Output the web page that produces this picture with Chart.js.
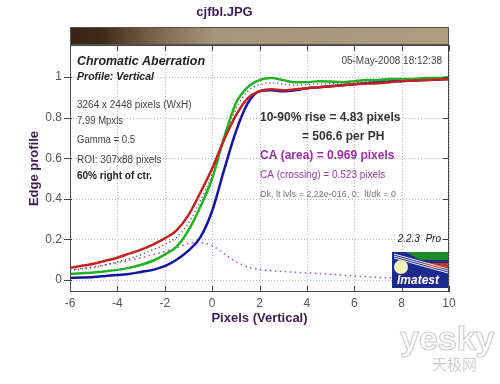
<!DOCTYPE html>
<html>
<head>
<meta charset="utf-8">
<script src="https://cdn.jsdelivr.net/npm/chart.js@4/dist/chart.umd.min.js"></script>
<style>
  body { margin: 0; background: #fff; }
  #wrap { width: 500px; height: 384px; }
</style>
</head>
<body>
<div id="wrap"><canvas id="ca-chart" width="500" height="384"></canvas></div>
<script>
// Edge positions (pixels, vertical profile)
let xPixels = [-6, -5.5, -5, -4.5, -4, -3.5, -3, -2.5, -2, -1.5, -1, -0.5, 0, 0.5, 1, 1.5, 2,
    2.5, 3, 3.5, 4, 4.5, 5, 5.5, 6, 6.5, 7, 7.5, 8, 8.5, 9, 9.5, 10];

// Channel edge profiles
let redProfile = [0.06, 0.07, 0.08, 0.095, 0.11, 0.13, 0.15, 0.175, 0.205, 0.245, 0.32, 0.43, 0.55, 0.69, 0.81, 0.895, 0.93,
    0.94, 0.935, 0.94, 0.945, 0.95, 0.955, 0.96, 0.965, 0.968, 0.97, 0.975, 0.98, 0.982, 0.985, 0.988, 0.99];
let greenProfile = [0.03, 0.033, 0.037, 0.043, 0.05, 0.06, 0.075, 0.095, 0.125, 0.165, 0.245, 0.36, 0.5, 0.7, 0.87, 0.95, 0.985,
    0.995, 0.985, 0.975, 0.975, 0.98, 0.978, 0.975, 0.98, 0.985, 0.985, 0.99, 0.99, 0.99, 0.995, 0.995, 1.0];
let blueProfile = [0.01, 0.012, 0.015, 0.02, 0.025, 0.03, 0.04, 0.05, 0.068, 0.1, 0.145, 0.21, 0.34, 0.54, 0.73, 0.87, 0.93,
    0.935, 0.93, 0.935, 0.945, 0.95, 0.955, 0.96, 0.965, 0.97, 0.975, 0.978, 0.98, 0.983, 0.985, 0.988, 0.99];
// Dotted curves: luminance-like profile and channel spread
let lumaProfile = [0.048, 0.055, 0.063, 0.075, 0.09, 0.105, 0.125, 0.15, 0.175, 0.21, 0.28, 0.39, 0.52, 0.69, 0.84, 0.93, 0.962,
    0.972, 0.965, 0.96, 0.962, 0.965, 0.968, 0.97, 0.973, 0.977, 0.98, 0.982, 0.985, 0.987, 0.99, 0.99, 0.993];
let spreadProfile = [0.05, 0.057, 0.065, 0.075, 0.085, 0.097, 0.11, 0.125, 0.14, 0.16, 0.18, 0.185, 0.17, 0.13, 0.09, 0.065, 0.052,
    0.046, 0.042, 0.038, 0.035, 0.032, 0.028, 0.025, 0.02, 0.016, 0.013, 0.011, 0.01, 0.01, 0.01, 0.01, 0.01];

let xTicks = [-6, -4, -2, 0, 2, 4, 6, 8, 10];
let yTicks = [0, 0.2, 0.4, 0.6, 0.8, 1];
let yTickLabels = ['0', '0.2', '0.4', '0.6', '0.8', '1'];

let titleColor = '#3d1c4f';

function toPoints(values) {
    return xPixels.map((x, i) => ({ x: x, y: values[i] }));
}

// Draws text squeezed to the width it has in the reference
function label(ctx, text, x, y, font, color, width, align) {
    ctx.font = font;
    ctx.fillStyle = color;
    ctx.textAlign = align || 'left';
    ctx.textBaseline = 'middle';
    if (width) ctx.fillText(text, x, y, width);
    else ctx.fillText(text, x, y);
}

// Frame, inward ticks, colour bar, notes and the Imatest badge
let decorations = {
    id: 'decorations',
    beforeDatasetsDraw(chart) {
        // dotted grid
        let ctx = chart.ctx;
        let area = chart.chartArea;
        let xs = chart.scales.x;
        let ys = chart.scales.y;
        ctx.save();
        ctx.strokeStyle = '#b8b8b8';
        ctx.lineWidth = 1;
        ctx.setLineDash([1, 2]);
        ctx.beginPath();
        xTicks.forEach(v => {
            let px = Math.round(xs.getPixelForValue(v)) + 0.5;
            ctx.moveTo(px, area.top);
            ctx.lineTo(px, area.bottom);
        });
        yTicks.forEach(v => {
            let py = Math.round(ys.getPixelForValue(v)) + 0.5;
            ctx.moveTo(area.left, py);
            ctx.lineTo(area.right, py);
        });
        ctx.stroke();
        ctx.restore();
    },
    afterDraw(chart) {
        let ctx = chart.ctx;
        let area = chart.chartArea;
        let xs = chart.scales.x;
        let ys = chart.scales.y;
        ctx.save();

        // colour strip over the plot
        let grad = ctx.createLinearGradient(area.left, 0, area.right, 0);
        grad.addColorStop(0, '#3a2313');
        grad.addColorStop(0.08, '#3f2816');
        grad.addColorStop(0.22, '#7a624a');
        grad.addColorStop(0.38, '#a8947a');
        grad.addColorStop(1, '#ae9b80');
        ctx.fillStyle = grad;
        ctx.fillRect(area.left, area.top - 18, area.right - area.left, 18);
        ctx.strokeStyle = '#555';
        ctx.lineWidth = 1;
        ctx.strokeRect(area.left + 0.5, area.top - 17.5, area.right - area.left - 1, 17);

        // plot box
        ctx.strokeStyle = '#444';
        ctx.strokeRect(area.left + 0.5, area.top + 0.5, area.right - area.left - 1, area.bottom - area.top - 1);

        // tick marks
        ctx.beginPath();
        xTicks.forEach(v => {
            let px = Math.round(xs.getPixelForValue(v)) + 0.5;
            ctx.moveTo(px, area.bottom);
            ctx.lineTo(px, area.bottom - 6);
            ctx.moveTo(px, area.top);
            ctx.lineTo(px, area.top + 6);
        });
        yTicks.forEach(v => {
            let py = Math.round(ys.getPixelForValue(v)) + 0.5;
            ctx.moveTo(area.left - 6, py);
            ctx.lineTo(area.left + 2, py);
            ctx.moveTo(area.right, py);
            ctx.lineTo(area.right - 6, py);
        });
        ctx.stroke();

        // notes, left block
        let lx = area.left + 7;
        label(ctx, 'Chromatic Aberration', lx, 61, 'italic bold 13px "Liberation Sans", Arial', '#222', 128);
        label(ctx, 'Profile: Vertical', lx, 77, 'italic bold 11px "Liberation Sans", Arial', '#222', 77);
        label(ctx, '3264 x 2448 pixels (WxH)', lx, 105, '10px "Liberation Sans", Arial', '#444', 119);
        label(ctx, '7.99 Mpxls', lx, 121, '10px "Liberation Sans", Arial', '#444', 46);
        label(ctx, 'Gamma = 0.5', lx, 140, '10px "Liberation Sans", Arial', '#444', 58);
        label(ctx, 'ROI: 307x88 pixels', lx, 160, '10px "Liberation Sans", Arial', '#444', 88);
        label(ctx, '60% right of ctr.', lx, 176, 'bold 10px "Liberation Sans", Arial', '#222', 82);

        // notes, right block
        label(ctx, '05-May-2008 18:12:38', area.right - 7, 61, '10px "Liberation Sans", Arial', '#444', 105, 'right');
        label(ctx, '10-90% rise = 4.83 pixels', 260, 118, 'bold 12px "Liberation Sans", Arial', '#333', 146);
        label(ctx, '= 506.6 per PH', 302, 137, 'bold 12px "Liberation Sans", Arial', '#333', 86);
        label(ctx, 'CA (area) = 0.969 pixels', 260, 156, 'bold 12px "Liberation Sans", Arial', '#a02ca8', 143);
        label(ctx, 'CA (crossing) = 0.523 pixels', 260, 175, '10px "Liberation Sans", Arial', '#9a3aa0', 132);
        label(ctx, 'Dk, lt lvls = 2.22e-016, 0;  lt/dk = 0', 260, 195, '9px "Liberation Sans", Arial', '#777', 172);
        label(ctx, '2.2.3  Pro', area.right - 8, ys.getPixelForValue(0.2), 'italic 10px "Liberation Sans", Arial', '#222', 44, 'right');

        // Imatest badge
        let bx = area.right - 57, by = area.bottom - 40, bw = 56, bh = 36;
        ctx.fillStyle = '#1c2a8e';
        ctx.fillRect(bx, by, bw, bh);
        ctx.fillStyle = '#1a8a2a';
        ctx.beginPath();
        ctx.moveTo(bx + 14, by);
        ctx.lineTo(bx + bw, by);
        ctx.lineTo(bx + bw, by + 8);
        ctx.lineTo(bx + 28, by + 8);
        ctx.closePath();
        ctx.fill();
        ctx.fillStyle = '#c0361e';
        ctx.beginPath();
        ctx.moveTo(bx + 30, by + 11);
        ctx.lineTo(bx + bw, by + 11);
        ctx.lineTo(bx + bw, by + 16);
        ctx.lineTo(bx + 40, by + 16);
        ctx.closePath();
        ctx.fill();
        ctx.strokeStyle = '#f4f0f8';
        ctx.lineWidth = 1;
        for (let k = 0; k < 3; k++) {
            ctx.beginPath();
            ctx.moveTo(bx + 2, by + 2 + k * 2);
            ctx.lineTo(bx + bw, by + 17 + k * 2);
            ctx.stroke();
        }
        ctx.fillStyle = '#f5f1bd';
        ctx.beginPath();
        ctx.arc(bx + 9, by + 15, 7, 0, Math.PI * 2);
        ctx.fill();
        label(ctx, 'Imatest', bx + 5, by + 29, 'italic bold 12px "Liberation Sans", Arial', '#fff', 46);

        // faint site watermark
        ctx.font = 'bold 34px "Liberation Sans", Arial';
        ctx.textAlign = 'left';
        ctx.textBaseline = 'alphabetic';
        ctx.strokeStyle = '#d0d0d0';
        ctx.lineWidth = 1.2;
        ctx.strokeText('yesky', 400, 350);
        label(ctx, '天极网', 432, 364, '15px "Noto Sans CJK SC"', '#cfcfcf');

        ctx.restore();
    }
};

let caChart = new Chart(document.getElementById('ca-chart'),
    {
        type: 'line',
        data: {
            datasets: [
                {
                    label: 'Red',
                    data: toPoints(redProfile),
                    borderColor: '#c42222',
                    borderWidth: 2.5
                },
                {
                    label: 'Green',
                    data: toPoints(greenProfile),
                    borderColor: '#22b025',
                    borderWidth: 2.5
                },
                {
                    label: 'Blue',
                    data: toPoints(blueProfile),
                    borderColor: '#14149e',
                    borderWidth: 2.5
                },
                {
                    label: 'Luminance',
                    data: toPoints(lumaProfile),
                    borderColor: '#333',
                    borderWidth: 1.3,
                    borderDash: [1, 3]
                },
                {
                    label: 'Spread',
                    data: toPoints(spreadProfile),
                    borderColor: '#b04a9c',
                    borderWidth: 1.5,
                    borderDash: [1.5, 3.5]
                }
            ]
        },
        options: {
            responsive: false,
            animation: false,
            devicePixelRatio: 1,
            layout: { padding: { left: 0, right: 51, top: 0, bottom: 0 } },
            elements: {
                point: { radius: 0 },
                line: { cubicInterpolationMode: 'monotone', fill: false }
            },
            plugins: {
                legend: { display: false },
                tooltip: { enabled: false },
                title: {
                    display: true,
                    text: 'cjfbl.JPG',
                    color: titleColor,
                    font: { family: '"Liberation Sans", Arial', size: 13, weight: 'bold' },
                    padding: { top: 5, bottom: 24.4 }
                }
            },
            scales: {
                x: {
                    type: 'linear',
                    min: -6,
                    max: 10,
                    afterBuildTicks: scale => { scale.ticks = xTicks.map(v => ({ value: v })); },
                    afterFit: scale => { scale.height = 92; },
                    ticks: {
                        padding: 4,
                        color: '#555',
                        font: { family: '"Liberation Sans", Arial', size: 12 }
                    },
                    grid: { display: false, drawTicks: false },
                    border: { display: false },
                    title: {
                        display: true,
                        text: 'Pixels (Vertical)',
                        color: titleColor,
                        font: { family: '"Liberation Sans", Arial', size: 13, weight: 'bold' },
                        padding: { top: 0, bottom: 58 }
                    }
                },
                y: {
                    type: 'linear',
                    min: -0.059,
                    max: 1.158,
                    afterBuildTicks: scale => { scale.ticks = yTicks.map(v => ({ value: v })); },
                    afterFit: scale => { scale.width = 70; },
                    ticks: {
                        padding: 8,
                        color: '#555',
                        font: { family: '"Liberation Sans", Arial', size: 12 },
                        callback: (value, index) => yTickLabels[index]
                    },
                    grid: { display: false, drawTicks: false },
                    border: { display: false },
                    title: {
                        display: true,
                        text: 'Edge profile',
                        color: titleColor,
                        font: { family: '"Liberation Sans", Arial', size: 13, weight: 'bold' },
                        padding: { top: 27, bottom: 0 }
                    }
                }
            }
        },
        plugins: [decorations]
    }
);
</script>
</body>
</html>
